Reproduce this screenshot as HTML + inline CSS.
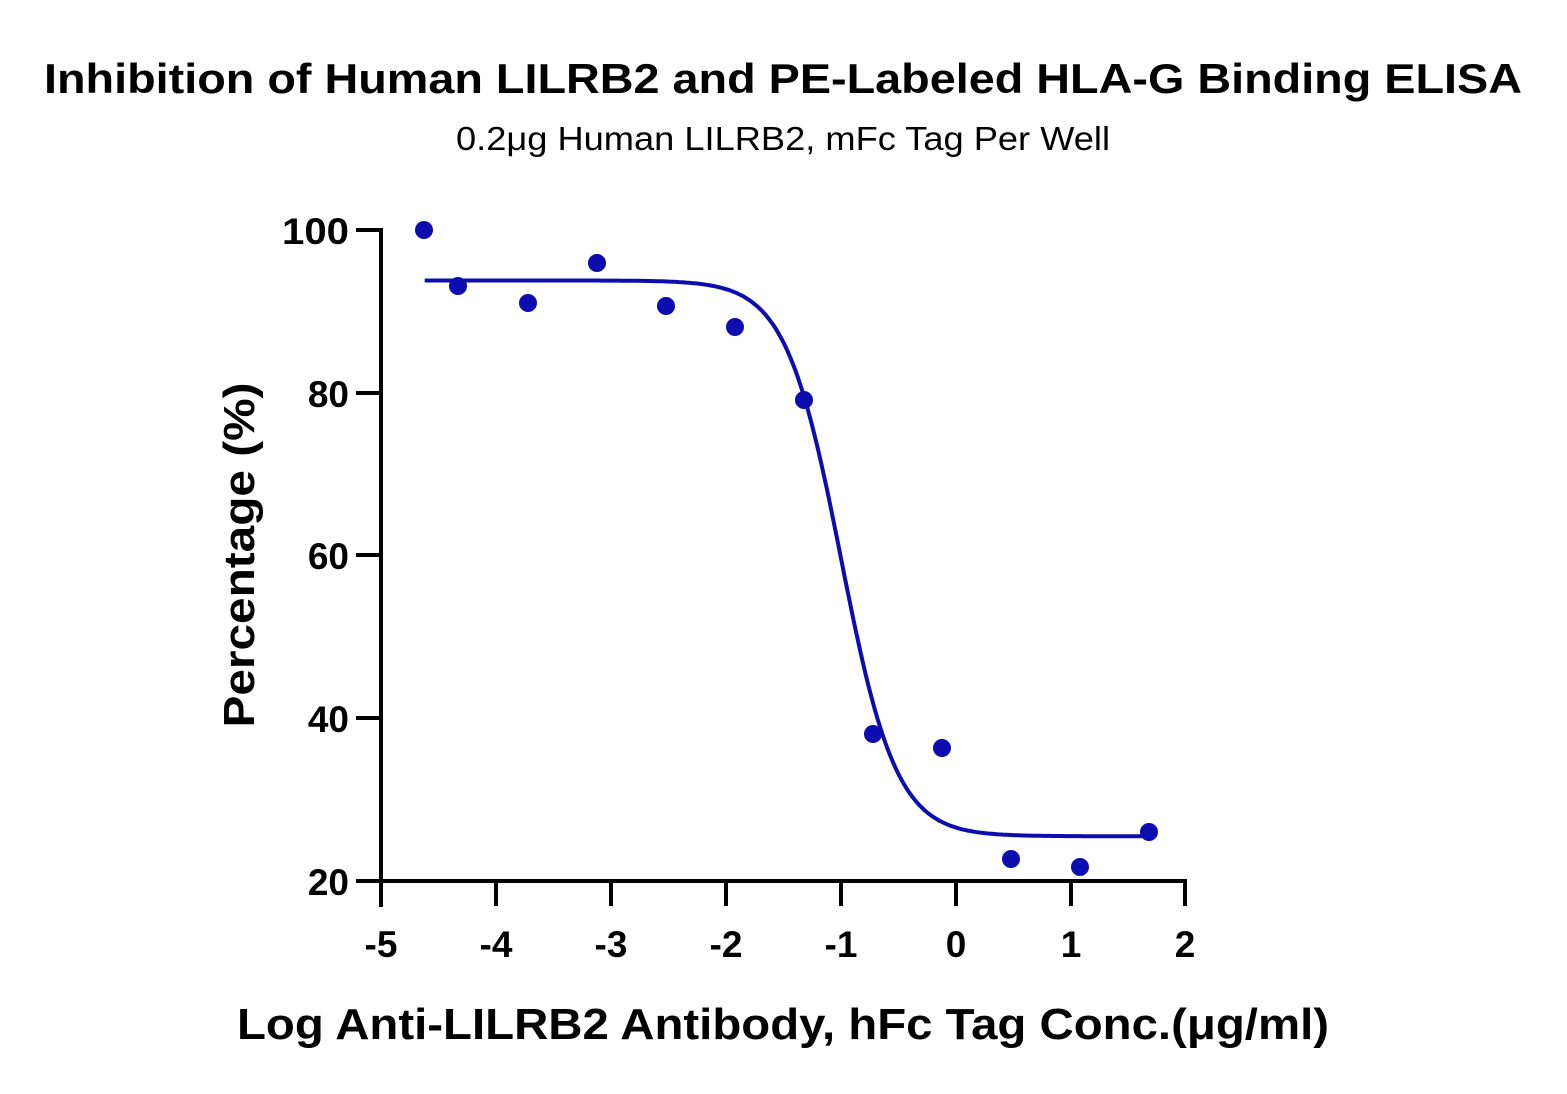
<!DOCTYPE html>
<html><head><meta charset="utf-8"><style>html,body{margin:0;padding:0;background:#fff}svg{display:block}</style></head>
<body>
<svg width="1567" height="1094" viewBox="0 0 1567 1094" xmlns="http://www.w3.org/2000/svg" font-family="'Liberation Sans', sans-serif">
<text x="783" y="93" text-anchor="middle" font-size="42" font-weight="bold" textLength="1478" lengthAdjust="spacingAndGlyphs">Inhibition of Human LILRB2 and PE-Labeled HLA-G Binding ELISA</text>
<text x="783" y="150" text-anchor="middle" font-size="33" textLength="654" lengthAdjust="spacingAndGlyphs">0.2μg Human LILRB2, mFc Tag Per Well</text>
<g stroke="#000" stroke-width="4" fill="none">
<line x1="381" y1="228" x2="381" y2="907"/>
<line x1="356" y1="881" x2="1187" y2="881"/>
<line x1="356" y1="230" x2="381" y2="230"/>
<line x1="356" y1="393" x2="381" y2="393"/>
<line x1="356" y1="555" x2="381" y2="555"/>
<line x1="356" y1="718" x2="381" y2="718"/>
<line x1="496" y1="881" x2="496" y2="906"/>
<line x1="611" y1="881" x2="611" y2="906"/>
<line x1="726" y1="881" x2="726" y2="906"/>
<line x1="841" y1="881" x2="841" y2="906"/>
<line x1="956" y1="881" x2="956" y2="906"/>
<line x1="1071" y1="881" x2="1071" y2="906"/>
<line x1="1185" y1="881" x2="1185" y2="906"/>
</g>
<g font-size="37" font-weight="bold" text-anchor="end">
<text x="349" y="244" textLength="67" lengthAdjust="spacingAndGlyphs">100</text><text x="349" y="407">80</text><text x="349" y="569">60</text><text x="349" y="732">40</text><text x="349" y="895">20</text>
</g>
<g font-size="37" font-weight="bold" text-anchor="middle">
<text x="381" y="957">-5</text><text x="496" y="957">-4</text><text x="611" y="957">-3</text><text x="726" y="957">-2</text><text x="841" y="957">-1</text><text x="956" y="957">0</text><text x="1071" y="957">1</text><text x="1185" y="957">2</text>
</g>
<text x="783" y="1039" text-anchor="middle" font-size="44" font-weight="bold" textLength="1092" lengthAdjust="spacingAndGlyphs">Log Anti-LILRB2 Antibody, hFc Tag Conc.(μg/ml)</text>
<text transform="translate(254,555) rotate(-90)" text-anchor="middle" font-size="44" font-weight="bold" textLength="345" lengthAdjust="spacingAndGlyphs">Percentage (%)</text>
<path id="c" fill="none" stroke="#0c0cb0" stroke-width="4"/>
<g fill="#0c0cb0">
<circle cx="424" cy="230" r="9"/><circle cx="458" cy="286" r="9"/><circle cx="528" cy="303" r="9"/><circle cx="597" cy="263" r="9"/><circle cx="666" cy="306" r="9"/><circle cx="735" cy="327" r="9"/><circle cx="804" cy="400" r="9"/><circle cx="873" cy="734" r="9"/><circle cx="942" cy="748" r="9"/><circle cx="1011" cy="859" r="9"/><circle cx="1080" cy="867" r="9"/><circle cx="1149" cy="832" r="9"/>
</g>
<script>
(function(){var d="";for(var i=0;i<=300;i++){var x=-4.62+(1.7+4.62)*i/300;var y=25.5+68.3/(1+Math.pow(10,(x+1.0)*1.8));var px=381+(x+5)*115,py=881-(y-20)*8.1375;d+=(i?"L":"M")+px.toFixed(1)+" "+py.toFixed(1);}document.getElementById("c").setAttribute("d",d);})();
</script>
</svg>
</body></html>
